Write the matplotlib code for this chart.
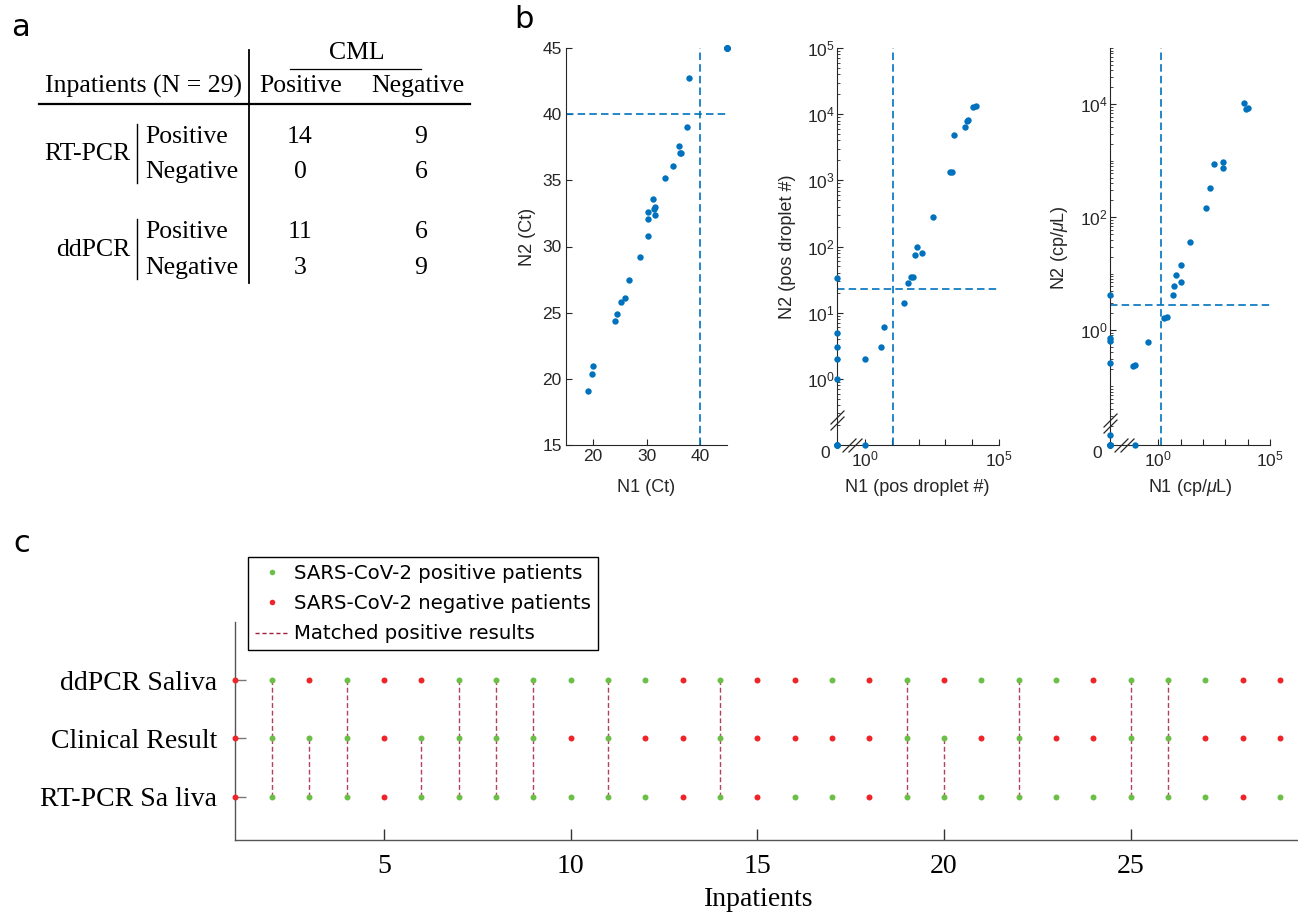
import numpy as np
import matplotlib
matplotlib.use('Agg')
import matplotlib.pyplot as plt
from matplotlib.lines import Line2D
from matplotlib.transforms import offset_copy
from matplotlib.ticker import FixedLocator, NullLocator, LogLocator, FixedFormatter, NullFormatter

plt.rcParams['font.family'] = ['Liberation Sans', 'DejaVu Sans']
plt.rcParams['mathtext.fontset'] = 'custom'
plt.rcParams['mathtext.rm'] = 'Liberation Sans'
plt.rcParams['mathtext.it'] = 'Liberation Sans:italic'

# ---- panel a : contingency table ----
cml_cols = ['Positive', 'Negative']
test_rows = ['Positive', 'Negative']
rtpcr_table = [[14, 9], [0, 6]]
ddpcr_table = [[11, 6], [3, 9]]

# ---- panel b : N1 vs N2 (0 = not detected) ----
ct_n1 = [19.1, 19.8, 20.1, 24.1, 24.5, 25.2, 26.0, 26.8, 28.7, 30.2, 30.2, 30.3,
         31.3, 31.6, 31.5, 31.4, 33.5, 34.9, 36.1, 36.3, 36.5, 37.6, 38.0,
         45, 45, 45, 45, 45, 45]
ct_n2 = [19.1, 20.4, 21.0, 24.4, 24.9, 25.8, 26.1, 27.5, 29.2, 30.8, 32.6, 32.1,
         33.6, 33.0, 32.4, 32.8, 35.2, 36.1, 37.6, 37.1, 37.1, 39.0, 42.7,
         45, 45, 45, 45, 45, 45]
ct_cut = 40

drop_n1 = [0, 1, 0, 0, 0, 0, 0, 1, 4, 5, 28, 39, 53, 60, 71, 90, 138, 360,
           1480, 1750, 2150, 5400, 6300, 7300, 10800, 14000, 0, 0, 0]
drop_n2 = [0, 0, 1, 2, 3, 5, 33, 2, 3, 6, 14, 28, 35, 35, 74, 99, 79, 282,
           1320, 1320, 4800, 6300, 7800, 8100, 12900, 13400, 0, 0, 0]
drop_cut_n1 = 11
drop_cut_n2 = 23

conc_n1 = [0, 0, 0.093, 0, 0, 0, 0, 0.071, 0.093, 0.35, 1.74, 2.45, 4.6, 5.2,
           6.2, 10, 10.7, 27, 138, 214, 315, 770, 770, 7200, 8500, 10700, 0, 0, 0]
conc_n2 = [0, 0.0138, 0, 4.2, 0.72, 0.65, 0.26, 0.226, 0.24, 0.61, 1.61, 1.7,
           4.24, 5.96, 9.6, 14.4, 7.2, 36.5, 145, 327, 890, 970, 760, 10800,
           8300, 8600, 0, 0, 0]
conc_cut_n1 = 1.3
conc_cut_n2 = 2.8

# ---- panel c : per-patient results (1 = positive) ----
patients = list(range(1, 30))
ddpcr_res = [0,1,0,1,0,0,1,1,1,1,1,1,0,1,0,0,1,0,1,0,1,1,1,0,1,1,1,0,0]
clinical_res = [0,1,1,1,0,1,1,1,1,0,1,0,0,1,0,0,0,0,1,1,0,1,0,0,1,1,0,0,0]
rtpcr_res = [0,1,1,1,0,1,1,1,1,1,1,1,0,1,0,1,1,0,1,1,1,1,1,1,1,1,1,0,1]
row_labels = ['RT-PCR Sa liva', 'Clinical Result', 'ddPCR Saliva']

W, H = 1298, 915
fig = plt.figure(figsize=(W / 100, H / 100), dpi=100)

def rect(l, t, r, b):
    return [l / W, 1 - b / H, (r - l) / W, (b - t) / H]

# overlay for free text / table lines, in pixel coords
ov = fig.add_axes([0, 0, 1, 1])
ov.set_xlim(0, W)
ov.set_ylim(H, 0)
ov.axis('off')

serif = 'Liberation Serif'
blue = '#0072BD'
dark = '#262626'

# panel letters
for x, y, s in [(20.7, 28, 'a'), (524, 20, 'b'), (21.7, 544, 'c')]:
    ov.text(x, y, s, fontsize=22, family='DejaVu Sans', ha='center', va='center')

# ---- table ----
fa = 18.5
ov.text(357, 53, 'CML', family=serif, fontsize=fa, ha='center', va='center')
ov.plot([290, 421], [69.3, 69.3], color='k', lw=0.9)
ov.text(241.7, 86, 'Inpatients (N = 29)', family=serif, fontsize=fa, ha='right', va='center')
col_x = [300.5, 417.5]
for x, name in zip(col_x, cml_cols):
    ov.text(x, 86, name, family=serif, fontsize=fa, ha='center', va='center')
ov.plot([39.3, 470], [104.3, 104.3], color='k', lw=1.6)
ov.plot([249.3, 249.3], [50, 282.7], color='k', lw=1.3)
for name, table, yc in [('RT-PCR', rtpcr_table, 154.5), ('ddPCR', ddpcr_table, 250)]:
    ov.text(130, yc, name, family=serif, fontsize=fa, ha='right', va='center')
    ov.plot([137.3, 137.3], [yc - 31, yc + 28.5], color='k', lw=1)
    for i, (rname, vals) in enumerate(zip(test_rows, table)):
        y = yc - 17.7 + 35.5 * i
        ov.text(145.7, y, rname, family=serif, fontsize=fa, ha='left', va='center')
        for x, v in zip([300, 421], vals):
            ov.text(x, y, str(v), family=serif, fontsize=fa, ha='center', va='center')

# ---- panel b ----
def style_b(ax):
    for s in ['top', 'right']:
        ax.spines[s].set_visible(False)
    for s in ['left', 'bottom']:
        ax.spines[s].set_color(dark)
        ax.spines[s].set_linewidth(0.8)
    ax.tick_params(which='both', direction='in', colors=dark, labelsize=12.5, pad=3)
    ax.tick_params(which='major', length=4)
    ax.tick_params(which='minor', length=2)

def slash(ax, xf, yf, dx, dy):
    tr = offset_copy(ax.transAxes, fig=fig, x=dx, y=dy, units='dots')
    ax.plot([xf], [yf], transform=tr, marker=[(-1, -1), (1, 1)], ms=10, mew=0.9,
            color=dark, ls='none', clip_on=False, zorder=5)

dash = dict(color=blue, lw=1.2, dashes=(4.5, 2.5))

ax1 = fig.add_axes(rect(566, 48, 727, 445))
ax1.plot(ct_n1, ct_n2, 'o', color=blue, ms=4.6, mec='none', clip_on=False, zorder=3)
ax1.axhline(ct_cut, **dash)
ax1.axvline(ct_cut, **dash)
ax1.set_xlim(15, 45)
ax1.set_ylim(15, 45)
ax1.set_xticks([20, 30, 40])
ax1.set_yticks(np.arange(15, 46, 5))
style_b(ax1)

def log_panel(ax, n1, n2, xlo, ylo, xcut, ycut, ymajor, ylabels, break_px):
    x = np.where(np.array(n1) > 0, n1, xlo)
    y = np.where(np.array(n2) > 0, n2, ylo)
    ax.plot(x, y, 'o', color=blue, ms=4.6, mec='none', clip_on=False, zorder=3)
    ax.axvline(xcut, **dash)
    ax.axhline(ycut, **dash)
    ax.set_xscale('log')
    ax.set_yscale('log')
    ax.set_xlim(xlo, 1e5)
    ax.set_ylim(ylo, 1e5)
    xt = [1, 10, 100, 1e3, 1e4, 1e5]
    ax.xaxis.set_major_locator(FixedLocator(xt))
    ax.xaxis.set_major_formatter(FixedFormatter(['$10^{0}$', '', '', '', '', '$10^{5}$']))
    ax.xaxis.set_minor_locator(NullLocator())
    ax.yaxis.set_major_locator(FixedLocator(ymajor))
    ax.yaxis.set_major_formatter(FixedFormatter(ylabels))
    ax.yaxis.set_minor_locator(LogLocator(base=10, subs=np.arange(1, 10), numticks=20))
    ax.yaxis.set_minor_formatter(NullFormatter())
    style_b(ax)
    ax.tick_params(axis='y', pad=1.5)
    yb, xb = break_px
    slash(ax, 0, yb, 0, -3)
    slash(ax, 0, yb, 0, 3)
    slash(ax, xb, 0, -3, 0)
    slash(ax, xb, 0, 3, 0)

ax2 = fig.add_axes(rect(837, 48, 998.7, 445))
log_panel(ax2, drop_n1, drop_n2, 10 ** -1.05, 10 ** -1.0, drop_cut_n1, drop_cut_n2,
          [1, 10, 100, 1e3, 1e4, 1e5],
          ['$10^{0}$', '$10^{1}$', '$10^{2}$', '$10^{3}$', '$10^{4}$', '$10^{5}$'],
          (25 / 397, 15 / 161.7))

ax3 = fig.add_axes(rect(1110, 48, 1270, 445))
log_panel(ax3, conc_n1, conc_n2, 10 ** -2.16, 10 ** -2.04, conc_cut_n1, conc_cut_n2,
          [1, 100, 1e4], ['$10^{0}$', '$10^{2}$', '$10^{4}$'],
          (22 / 397, 14 / 160))

for x, y in [(825, 453), (1097, 453)]:
    ov.text(x, y, '0', fontsize=12.5, ha='center', va='center', color=dark)

fb = 13
ov.text(527, 237, 'N2 (Ct)', fontsize=fb, rotation=90, ha='center', va='center', color=dark)
ov.text(646.5, 487, 'N1 (Ct)', fontsize=fb, ha='center', va='center', color=dark)
ov.text(788, 246.5, 'N2 (pos droplet #)', fontsize=fb, rotation=90, ha='center', va='center', color=dark)
ov.text(917, 487, 'N1 (pos droplet #)', fontsize=fb, ha='center', va='center', color=dark)
ov.text(1060, 247.5, r'N2 (cp/$\mu$L)', fontsize=fb, rotation=90, ha='center', va='center', color=dark)
ov.text(1190, 487, r'N1 (cp/$\mu$L)', fontsize=fb, ha='center', va='center', color=dark)

# ---- panel c ----
green = '#6bbf47'
red = '#ee2428'
match_col = '#a3203d'

axc = fig.add_axes(rect(234.6, 621.7, 1296.7, 840))
rows = [rtpcr_res, clinical_res, ddpcr_res]
pats = np.array(patients)
for lo in range(2):
    a = np.array(rows[lo])
    b = np.array(rows[lo + 1])
    both = pats[(a == 1) & (b == 1)]
    for p in both:
        axc.plot([p, p], [lo + 1, lo + 2], color=match_col, lw=1.0, dashes=(3.5, 2), alpha=0.85, zorder=2)
for k, res in enumerate(rows):
    res = np.array(res)
    axc.plot(pats[res == 1], np.full((res == 1).sum(), k + 1), 'o', color=green,
             ms=4.3, mec='none', clip_on=False, zorder=3)
    axc.plot(pats[res == 0], np.full((res == 0).sum(), k + 1), 'o', color=red,
             ms=4.3, mec='none', clip_on=False, zorder=3)
axc.set_xlim(1, 29.45)
axc.set_ylim(0.26, 4.0)
axc.set_xticks([5, 10, 15, 20, 25])
axc.set_xticklabels(['5', '10', '15', '20', '25'], family=serif, fontsize=20)
axc.set_yticks([1, 2, 3])
axc.set_yticklabels(row_labels, family=serif, fontsize=20)
for s in ['top', 'right']:
    axc.spines[s].set_visible(False)
for s in ['left', 'bottom']:
    axc.spines[s].set_color('#555555')
    axc.spines[s].set_linewidth(1.0)
axc.tick_params(axis='y', direction='in', length=8, width=1, color='#777777', pad=12.5)
axc.tick_params(axis='x', direction='in', length=8, width=1, color='#333333', pad=10)
ov.text(759, 899, 'Inpatients', family=serif, fontsize=20, ha='center', va='center')

handles = [Line2D([], [], marker='o', ls='none', color=green, ms=4, mec='none'),
           Line2D([], [], marker='o', ls='none', color=red, ms=4, mec='none'),
           Line2D([], [], ls='--', color=match_col, lw=1.0, dashes=(3, 2))]
labels = ['SARS-CoV-2 positive patients', 'SARS-CoV-2 negative patients',
          'Matched positive results']
leg = axc.legend(handles, labels, loc='upper left', bbox_to_anchor=(248 / W, 1 - 556.7 / H),
                 bbox_transform=fig.transFigure, borderaxespad=0, fancybox=False,
                 edgecolor='k', framealpha=1, prop=dict(family='DejaVu Sans', size=14.2),
                 handlelength=1.7, handletextpad=0.3, labelspacing=0.58, borderpad=0.35)
leg.get_frame().set_linewidth(1.0)

fig.savefig('out.png', dpi=100)
